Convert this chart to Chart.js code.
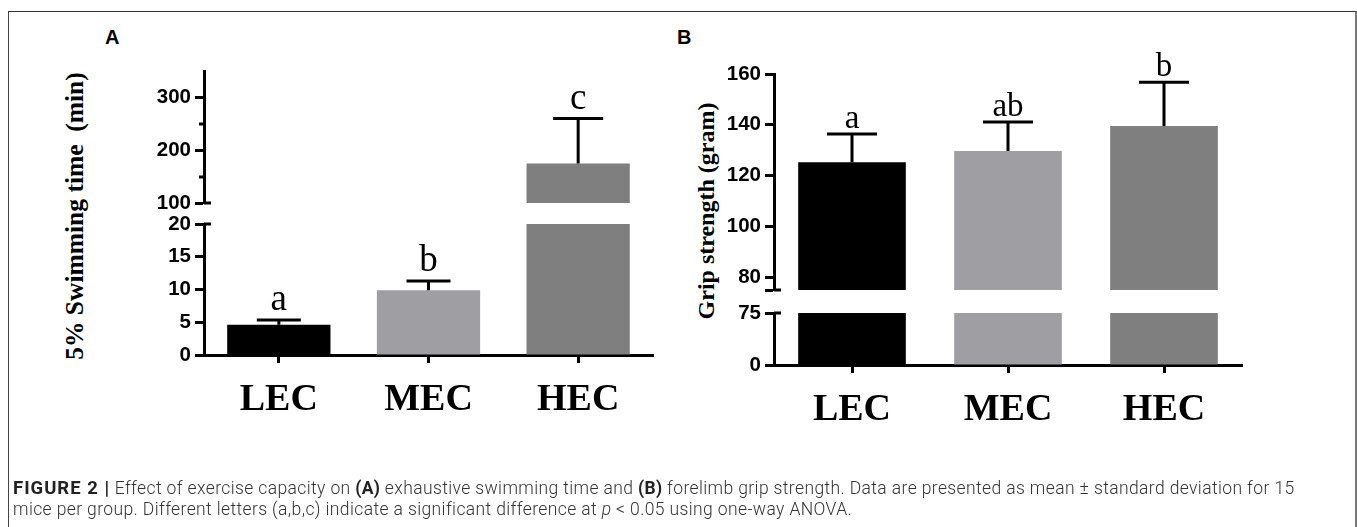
<!DOCTYPE html>
<html><head><meta charset="utf-8">
<script src="https://cdn.jsdelivr.net/npm/chart.js@4/dist/chart.umd.min.js"></script>
<style>
html,body{margin:0;padding:0;background:#fff;width:1357px;height:527px;overflow:hidden;}
body{position:relative;}
canvas.layer{position:absolute;left:0;top:0;}
#frame{position:absolute;left:8px;top:11px;width:1346px;height:600px;border-top:1px solid #333;border-left:1px solid #444;border-right:2px solid #777;}
.ytitle{position:absolute;width:340px;height:28px;line-height:28px;text-align:center;font-family:"Liberation Serif","Times New Roman",serif;font-weight:bold;color:#000;white-space:pre;transform:rotate(-90deg);}
.plabel{position:absolute;font-family:"Liberation Sans",Arial,sans-serif;font-weight:bold;font-size:20px;line-height:20px;color:#000;}
.caption{position:absolute;left:13px;font-family:"Roboto","Liberation Sans",Arial,sans-serif;font-weight:300;font-size:17.5px;letter-spacing:0.38px;color:#333;white-space:nowrap;}
.caption b{font-weight:bold;color:#222;letter-spacing:0.3px;}
.caption b.fig{font-size:18.5px;letter-spacing:1px;}
</style></head><body>
<div id="frame"></div>
<div class="plabel" style="left:105px;top:27px;">A</div>
<div class="plabel" style="left:677px;top:27px;">B</div>
<div class="ytitle" style="left:-95px;top:202px;font-size:25.5px;">5% Swimming time  (min)</div>
<div class="ytitle" style="left:536px;top:197px;font-size:24px;">Grip strength (gram)</div>
<canvas id="aLow" class="layer" width="1357" height="527"></canvas>
<canvas id="aUp" class="layer" width="1357" height="527"></canvas>
<canvas id="bLow" class="layer" width="1357" height="527"></canvas>
<canvas id="bUp" class="layer" width="1357" height="527"></canvas>
<div class="caption" style="top:477px;"><b class="fig">FIGURE 2 |</b> Effect of exercise capacity on <b>(A)</b> exhaustive swimming time and <b>(B)</b> forelimb grip strength. Data are presented as mean ± standard deviation for 15</div>
<div class="caption" style="top:499px;">mice per group. Different letters (a,b,c) indicate a significant difference at <i>p</i> &lt; 0.05 using one-way ANOVA.</div>
<script>
// ---- data ----
const categories = ['LEC', 'MEC', 'HEC'];
const swimMeans = [4.6, 9.9, 175];
const swimSD = [0.75, 1.4, 85];
const swimLetters = ['a', 'b', 'c'];
const gripMeans = [125.3, 129.7, 139.5];
const gripSD = [11.1, 11.4, 17.3];
const gripLetters = ['a', 'ab', 'b'];
const swimLowerTicks = [0, 5, 10, 15, 20];
const swimLowerLabels = [0, 5, 10, 15, 20];
const swimUpperTicks = [100, 150, 200, 250, 300, 350];
const swimUpperLabels = [100, 200, 300];
const swimUpperMinor = [150, 250];
const gripLowerTicks = [0, 75];
const gripLowerLabels = [0, 75];
const gripUpperTicks = [75, 80, 100, 120, 140, 160];
const gripUpperLabels = [80, 100, 120, 140, 160];
const barColors = ['#000000', '#9f9fa3', '#7f7f7f'];

const W = 1357, H = 527, YW = 70, XH = 60;

const extras = {
  id: 'extras',
  afterDatasetsDraw(chart, args, o) {
    const ctx = chart.ctx, y = chart.scales.y, meta = chart.getDatasetMeta(0);
    const ax = chart.chartArea.left;
    ctx.save();
    ctx.strokeStyle = '#000'; ctx.fillStyle = '#000'; ctx.lineWidth = 3; ctx.lineCap = 'butt';
    (o.minor || []).forEach(v => {
      const py = Math.round(y.getPixelForValue(v));
      ctx.beginPath(); ctx.moveTo(ax - 5, py); ctx.lineTo(ax, py); ctx.stroke();
    });
    (o.caps || []).forEach(v => {
      const py = Math.round(y.getPixelForValue(v));
      ctx.beginPath(); ctx.moveTo(ax, py); ctx.lineTo(ax + 7, py); ctx.stroke();
    });
    o.means.forEach((m, i) => {
      if (m < y.min || m > y.max) return;
      const x = meta.data[i].x;
      const y0 = y.getPixelForValue(m), y1 = y.getPixelForValue(m + o.sd[i]);
      ctx.beginPath(); ctx.moveTo(x, y0); ctx.lineTo(x, y1);
      ctx.moveTo(x - o.capHalf, y1); ctx.lineTo(x + o.capHalf, y1); ctx.stroke();
      ctx.font = o.letterFont; ctx.textAlign = 'center'; ctx.textBaseline = 'alphabetic';
      ctx.fillText(o.letters[i], x, y1 - o.letterGap);
    });
    ctx.restore();
  }
};

function makeChart(id, p) {
  const padding = {
    left: p.left - YW, top: p.top, right: W - p.right,
    bottom: H - p.bottom - (p.showX ? XH : 0)
  };
  return new Chart(document.getElementById(id), {
    type: 'bar',
    data: {
      labels: categories,
      datasets: [{
        data: p.means, backgroundColor: barColors, borderWidth: 0,
        barPercentage: 0.69, categoryPercentage: 1, clip: 0
      }]
    },
    options: {
      responsive: false, animation: false, events: [],
      layout: { padding },
      plugins: { legend: { display: false }, tooltip: { enabled: false },
        extras: { means: p.means, sd: p.sd, letters: p.letters, minor: p.minor, caps: p.caps,
          capHalf: p.capHalf, letterFont: p.letterFont, letterGap: p.letterGap } },
      scales: {
        x: {
          display: p.showX,
          afterFit: s => { s.height = p.showX ? XH : 0; },
          grid: { offset: false, drawOnChartArea: false, drawTicks: true, tickLength: 8, tickWidth: 3, tickColor: '#000' },
          border: { display: true, color: '#000', width: 3 },
          ticks: { padding: 14, color: '#000', font: { family: '"Liberation Serif", "Times New Roman", serif', weight: 'bold', size: 38 } }
        },
        y: {
          min: p.min, max: p.max,
          afterFit: s => { s.width = YW; },
          afterBuildTicks: s => { s.ticks = p.ticks.map(v => ({ value: v })); },
          grid: { drawOnChartArea: false, drawTicks: true, tickLength: 9, tickWidth: 3,
            tickColor: c => (p.labels.includes(c.tick.value) || (p.caps || []).includes(c.tick.value)) ? '#000' : 'rgba(0,0,0,0)' },
          border: { display: true, color: '#000', width: 3 },
          ticks: { autoSkip: false, padding: 4, color: '#000',
            font: { family: '"Liberation Sans", Arial, sans-serif', weight: 'bold', size: 20.5 },
            callback: v => p.labels.includes(v) ? String(v) : '' }
        }
      }
    },
    plugins: [extras]
  });
}

const letterA = '37px "Liberation Serif", "Times New Roman", serif';
const letterB = '33px "Liberation Serif", "Times New Roman", serif';

makeChart('aLow', { left: 204, right: 653, top: 224, bottom: 355, showX: true, min: 0, max: 20,
  ticks: swimLowerTicks, labels: swimLowerLabels, caps: [20], minor: [],
  means: swimMeans, sd: swimSD, letters: swimLetters, capHalf: 22, letterFont: letterA, letterGap: 10 });
makeChart('aUp', { left: 204, right: 653, top: 71, bottom: 203, showX: false, min: 100, max: 350,
  ticks: swimUpperTicks, labels: swimUpperLabels, caps: [100], minor: swimUpperMinor,
  means: swimMeans, sd: swimSD, letters: swimLetters, capHalf: 25, letterFont: letterA, letterGap: 10 });
makeChart('bLow', { left: 774, right: 1242, top: 313, bottom: 365, showX: true, min: 0, max: 75,
  ticks: gripLowerTicks, labels: gripLowerLabels, caps: [75], minor: [],
  means: gripMeans, sd: gripSD, letters: gripLetters, capHalf: 25, letterFont: letterB, letterGap: 6 });
makeChart('bUp', { left: 774, right: 1242, top: 74, bottom: 290, showX: false, min: 75, max: 160,
  ticks: gripUpperTicks, labels: gripUpperLabels, caps: [75], minor: [],
  means: gripMeans, sd: gripSD, letters: gripLetters, capHalf: 25, letterFont: letterB, letterGap: 6 });
</script>
</body></html>
